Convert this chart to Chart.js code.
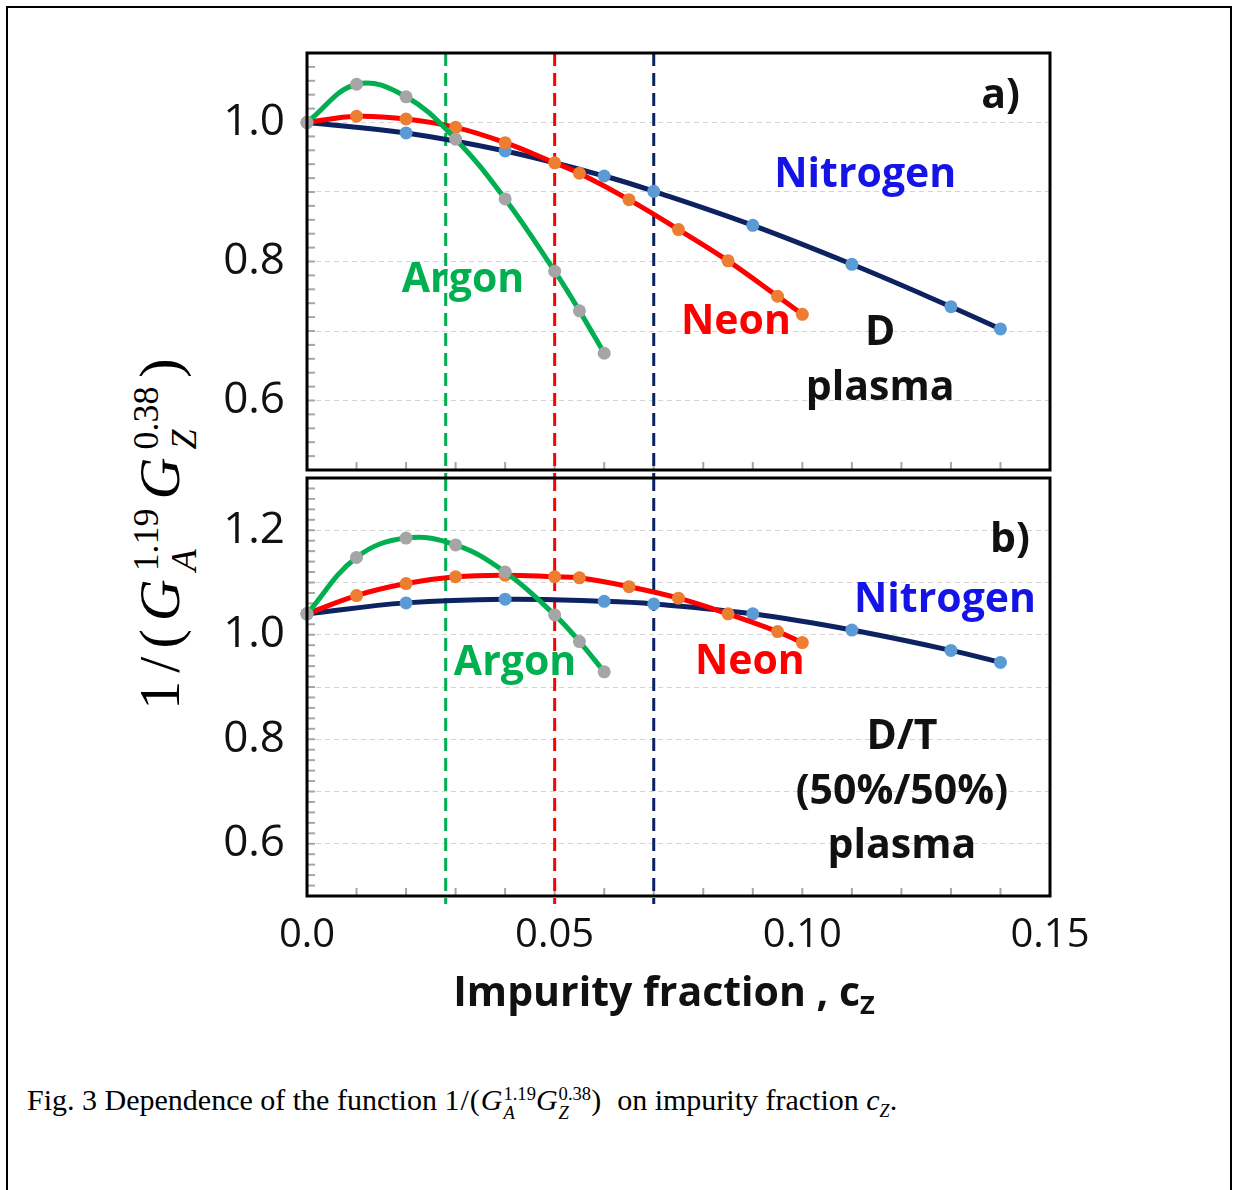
<!DOCTYPE html>
<html>
<head>
<meta charset="utf-8">
<script src="https://cdn.jsdelivr.net/npm/chart.js@4.4.1/dist/chart.umd.min.js"></script>
<style>
  body { margin: 0; background: #fff; width: 1233px; height: 1190px; overflow: hidden; position: relative; }
  #frame { position: absolute; left: 6px; top: 6px; width: 1226px; height: 1300px; border: 2px solid #000; box-sizing: border-box; }
  .box { position: absolute; }
  #boxA { left: 150px; top: 40px; width: 960px; height: 440px; }
  #boxB { left: 150px; top: 466px; width: 960px; height: 500px; }
  #ytitle { position: absolute; left: 165px; top: 530px; transform: translate(-50%, -50%) rotate(-90deg);
            font-family: "Liberation Serif", serif; font-size: 58px; letter-spacing: 8px; white-space: nowrap; color: #000; }
  .ss { display: inline-flex; flex-direction: column; font-size: 0.62em; line-height: 1.05; vertical-align: middle; font-style: normal; }
  .ss i { font-style: italic; }
  #ytitle .ss { letter-spacing: 0; margin-right: 9px; }
  #xtitle { position: absolute; left: 664px; top: 962px; transform: translateX(-50%);
            font-family: "Open Sans", sans-serif; font-weight: bold; font-size: 41px; white-space: nowrap; color: #111; }
  #xtitle sub { font-size: 0.62em; vertical-align: -0.3em; }
  #caption { position: absolute; left: 27px; top: 1083px; font-family: "Liberation Serif", serif; font-size: 30px; white-space: nowrap; color: #000; }
  #caption .ss { font-size: 0.62em; letter-spacing: 0; }
  #caption .m { letter-spacing: 1px; }
</style>
</head>
<body>
<div id="frame"></div>
<div id="ytitle">1/(<i>G</i><span class="ss"><span>1.19</span><i>A</i></span><i>G</i><span class="ss"><span>0.38</span><i>Z</i></span>)</div>
<div class="box" id="boxA"><canvas id="chartA"></canvas></div>
<div class="box" id="boxB"><canvas id="chartB"></canvas></div>
<div id="xtitle">Impurity fraction , c<sub>Z</sub></div>
<div id="caption">Fig. 3 Dependence of the function <span class="m">1/(<i>G</i><span class="ss"><span>1.19</span><i>A</i></span><i>G</i><span class="ss"><span>0.38</span><i>Z</i></span>)</span>&nbsp; on impurity fraction <i>c<sub style="font-size:0.6em">Z</sub></i>.</div>
<script>
// impurity fraction for each series
const czArgon = [0, 0.01, 0.02, 0.03, 0.04, 0.05, 0.055, 0.06];
const czNeon = [0, 0.01, 0.02, 0.03, 0.04, 0.05, 0.055, 0.065, 0.075, 0.085, 0.095, 0.10];
const czNitrogen = [0, 0.02, 0.04, 0.06, 0.07, 0.09, 0.11, 0.13, 0.14];

// a) D plasma
const argonD = [1.0, 1.055, 1.037, 0.976, 0.890, 0.786, 0.729, 0.668];
const neonD = [1.0, 1.009, 1.005, 0.993, 0.971, 0.942, 0.927, 0.889, 0.846, 0.801, 0.750, 0.724];
const nitrogenD = [1.0, 0.985, 0.959, 0.923, 0.901, 0.852, 0.796, 0.735, 0.703];

// b) D/T plasma
const argonDT = [1.04, 1.148, 1.185, 1.172, 1.120, 1.038, 0.987, 0.929];
const neonDT = [1.04, 1.075, 1.098, 1.111, 1.114, 1.111, 1.109, 1.092, 1.070, 1.040, 1.006, 0.985];
const nitrogenDT = [1.04, 1.061, 1.068, 1.064, 1.059, 1.040, 1.009, 0.970, 0.947];

// dashed limits (Ar, Ne, N)
const limitCz = [0.028, 0.05, 0.07];
const limitColors = ['#00B050', '#FF0000', '#0D2260'];

const xTicks = [0, 0.05, 0.10, 0.15];

function pts(xs, ys) {
    return xs.map((x, i) => ({ x: x, y: ys[i] }));
}

function series(label, xs, ys, line, dot) {
    return {
        label: label,
        data: pts(xs, ys),
        borderColor: line,
        borderWidth: 5,
        backgroundColor: dot,
        pointBackgroundColor: dot,
        pointBorderWidth: 0,
        pointRadius: 6.5,
        tension: 0.4,
        clip: false
    };
}

const panelDecor = {
    id: 'panelDecor',
    beforeDatasetsDraw(chart) {
        const ctx = chart.ctx;
        const a = chart.chartArea;
        const x = chart.scales.x, y = chart.scales.y;
        ctx.save();
        // small inside ticks
        ctx.strokeStyle = '#a6a6a6';
        ctx.lineWidth = 2;
        const ny = Math.round((y.max - y.min) / 0.02);
        for (let i = 1; i < ny; i++) {
            const py = y.getPixelForValue(y.min + i * 0.02);
            ctx.beginPath(); ctx.moveTo(a.left, py); ctx.lineTo(a.left + 8, py); ctx.stroke();
        }
        for (let i = 1; i < 15; i++) {
            const px = x.getPixelForValue(i * 0.01);
            ctx.beginPath(); ctx.moveTo(px, a.bottom); ctx.lineTo(px, a.bottom - 8); ctx.stroke();
        }
        // vertical dashed limits
        ctx.lineWidth = 3;
        ctx.setLineDash([13, 7]);
        limitCz.forEach((c, i) => {
            const px = x.getPixelForValue(c);
            ctx.strokeStyle = limitColors[i];
            ctx.beginPath(); ctx.moveTo(px, a.top); ctx.lineTo(px, a.bottom + 8); ctx.stroke();
        });
        ctx.restore();
    },
    afterDraw(chart, args, opts) {
        const ctx = chart.ctx;
        const a = chart.chartArea;
        const x = chart.scales.x, y = chart.scales.y;
        ctx.save();
        ctx.strokeStyle = '#000';
        ctx.lineWidth = 3;
        ctx.strokeRect(a.left, a.top, a.right - a.left, a.bottom - a.top);
        ctx.font = 'bold 41px "Open Sans", sans-serif';
        ctx.textAlign = 'center';
        ctx.textBaseline = 'middle';
        (opts.labels || []).forEach(l => {
            ctx.fillStyle = l.color;
            ctx.fillText(l.text, x.getPixelForValue(l.x), y.getPixelForValue(l.y));
        });
        ctx.restore();
    }
};

function yScale(min, max) {
    return {
        min: min, max: max,
        afterFit: s => {
            s.width = 157;
            s.paddingTop = 0;
            s.paddingBottom = 0;
        },
        ticks: {
            stepSize: 0.1,
            autoSkip: false,
            padding: 22,
            color: '#111',
            font: { family: 'Open Sans', size: 44 },
            callback: v => (Math.round(v * 10) % 2 === 0 ? v.toFixed(1) : '')
        },
        grid: { color: '#d4d4d4', lineWidth: 1, drawTicks: false },
        border: { display: false, dash: [5, 4] }
    };
}

function makeChart(id, datasets, yMin, yMax, showX, padding, labels) {
    return new Chart(document.getElementById(id), {
        type: 'line',
        data: { datasets: datasets },
        options: {
            responsive: true,
            maintainAspectRatio: false,
            animation: false,
            layout: { padding: padding },
            scales: {
                x: {
                    type: 'linear',
                    min: 0, max: 0.15,
                    display: showX,
                    afterFit: s => {
                        s.height = showX ? 70 : 0;
                        s.paddingLeft = 0;
                        s.paddingRight = 0;
                    },
                    afterBuildTicks: s => { s.ticks = xTicks.map(v => ({ value: v })); },
                    ticks: {
                        padding: 8,
                        color: '#111',
                        font: { family: 'Open Sans', size: 40 },
                        callback: v => (v === 0 ? '0.0' : v.toFixed(2))
                    },
                    grid: { display: false },
                    border: { display: false }
                },
                y: yScale(yMin, yMax)
            },
            plugins: {
                legend: { display: false },
                tooltip: { enabled: false },
                panelDecor: { labels: labels }
            }
        },
        plugins: [panelDecor]
    });
}

makeChart('chartA', [
    series('Argon', czArgon, argonD, '#00B050', '#A5A5A5'),
    series('Neon', czNeon, neonD, '#FF0000', '#ED7D31'),
    series('Nitrogen', czNitrogen, nitrogenD, '#0D2260', '#5B9BD5')
], 0.5, 1.1, false, { top: 13, right: 60, bottom: 10, left: 0 }, [
    { text: 'a)', x: 0.140, y: 1.037, color: '#111' },
    { text: 'Nitrogen', x: 0.1127, y: 0.9245, color: '#1414E6' },
    { text: 'Argon', x: 0.0315, y: 0.773, color: '#00B050' },
    { text: 'Neon', x: 0.0866, y: 0.713, color: '#FF0000' },
    { text: 'D', x: 0.1157, y: 0.697, color: '#111' },
    { text: 'plasma', x: 0.1157, y: 0.618, color: '#111' }
]);

makeChart('chartB', [
    series('Argon', czArgon, argonDT, '#00B050', '#A5A5A5'),
    series('Neon', czNeon, neonDT, '#FF0000', '#ED7D31'),
    series('Nitrogen', czNitrogen, nitrogenDT, '#0D2260', '#5B9BD5')
], 0.5, 1.3, true, { top: 12, right: 60, bottom: 0, left: 0 }, [
    { text: 'b)', x: 0.1419, y: 1.181, color: '#111' },
    { text: 'Nitrogen', x: 0.1288, y: 1.0665, color: '#1414E6' },
    { text: 'Argon', x: 0.042, y: 0.946, color: '#00B050' },
    { text: 'Neon', x: 0.0894, y: 0.948, color: '#FF0000' },
    { text: 'D/T', x: 0.1201, y: 0.804, color: '#111' },
    { text: '(50%/50%)', x: 0.1201, y: 0.699, color: '#111' },
    { text: 'plasma', x: 0.1201, y: 0.596, color: '#111' }
]);
</script>
</body>
</html>
